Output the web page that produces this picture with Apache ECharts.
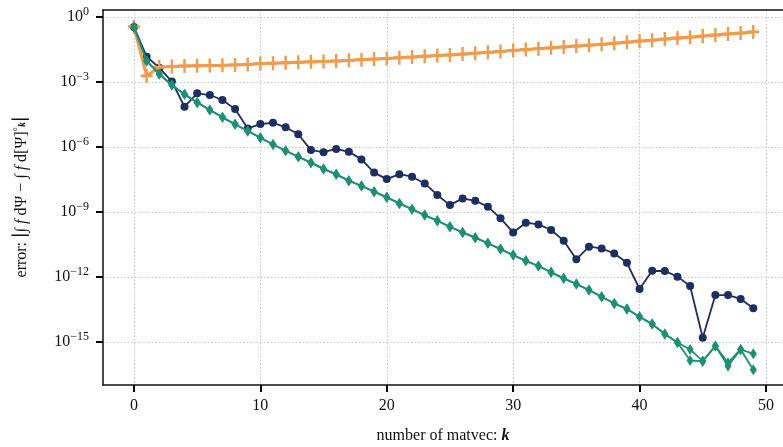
<!DOCTYPE html>
<html><head><meta charset="utf-8">
<script src="https://cdn.jsdelivr.net/npm/echarts@6/dist/echarts.min.js"></script>
<style>html,body{margin:0;padding:0;background:#fff}#c{width:783px;height:447px}</style>
</head><body><div id="c"></div>
<script>
// iteration index k
const ks = Array.from({length: 50}, (_, i) => i);
// log10 of the error
const orangeLog10 = [-0.45,-2.72,-2.31,-2.28,-2.26,-2.25,-2.24,-2.23,-2.21,-2.19,-2.15,-2.13,-2.11,-2.09,-2.07,-2.05,-2.03,-2.00,-1.97,-1.94,-1.91,-1.88,-1.85,-1.81,-1.78,-1.75,-1.71,-1.67,-1.63,-1.59,-1.54,-1.50,-1.46,-1.42,-1.38,-1.34,-1.30,-1.26,-1.21,-1.16,-1.11,-1.07,-1.02,-0.97,-0.93,-0.88,-0.83,-0.78,-0.74,-0.69];
const navyLog10 = [-0.46,-1.83,-2.34,-2.98,-4.14,-3.52,-3.60,-3.83,-4.25,-5.14,-4.94,-4.88,-5.09,-5.41,-6.14,-6.24,-6.09,-6.22,-6.57,-7.18,-7.48,-7.25,-7.37,-7.68,-8.21,-8.68,-8.37,-8.48,-8.75,-9.29,-9.94,-9.49,-9.57,-9.83,-10.32,-11.18,-10.60,-10.68,-10.91,-11.34,-12.55,-11.71,-11.72,-11.98,-12.41,-14.80,-12.83,-12.83,-13.01,-13.44];
const tealALog10 = [-0.46,-2.03,-2.63,-3.14,-3.57,-3.94,-4.29,-4.63,-4.95,-5.26,-5.57,-5.88,-6.17,-6.45,-6.72,-7.01,-7.26,-7.55,-7.80,-8.06,-8.32,-8.60,-8.87,-9.14,-9.40,-9.68,-9.94,-10.18,-10.44,-10.71,-10.98,-11.25,-11.49,-11.78,-12.06,-12.32,-12.60,-12.91,-13.22,-13.47,-13.83,-14.17,-14.63,-15.02,-15.34,-15.88,-15.18,-15.95,-15.34,-15.54];
const tealBLog10 = [-0.46,-2.03,-2.63,-3.14,-3.57,-3.94,-4.29,-4.63,-4.95,-5.26,-5.57,-5.88,-6.17,-6.45,-6.72,-7.01,-7.26,-7.55,-7.80,-8.06,-8.32,-8.60,-8.87,-9.14,-9.40,-9.68,-9.94,-10.18,-10.44,-10.71,-10.98,-11.25,-11.49,-11.78,-12.06,-12.32,-12.60,-12.91,-13.22,-13.47,-13.83,-14.17,-14.63,-15.02,-15.85,-15.88,-15.18,-16.10,-15.34,-16.28];
const xTicks = [0, 10, 20, 30, 40, 50];
const yTicks = [-15, -12, -9, -6, -3, 0];

const FONT = '"Liberation Serif", "DejaVu Serif", serif';
const pair = arr => ks.map((k, i) => [k, arr[i]]);
const plusPath = 'path://M4,0H6V4H10V6H6V10H4V6H0V4H4Z';

const chart = echarts.init(document.getElementById('c'));
chart.setOption({
  animation: false,
  grid: {left: 103, top: 10, right: 0, bottom: 62, outerBoundsMode: 'none'},
  graphic: [
    {type: 'text', x: 443, y: 436, silent: true,
     style: {text: 'number of matvec: {k|k}', font: '16px ' + FONT, fill: '#111', align: 'center', verticalAlign: 'middle',
       rich: {k: {fontFamily: FONT, fontSize: 16, fontStyle: 'italic', fontWeight: 'bold', fill: '#111'}}}},
    {type: 'text', x: 22, y: 197, rotation: Math.PI / 2, silent: true,
     style: {text: 'error: {bar|\u2223}\u222B {i|f} d\u03A8 \u2212 \u222B {i|f} d[\u03A8]{sup|\u00B0}{sub|k}{bar|\u2223}',
       font: '16px ' + FONT, fill: '#111', align: 'center', verticalAlign: 'middle',
       rich: {
         i: {fontFamily: FONT, fontSize: 16, fontStyle: 'italic', fill: '#111'},
         bar: {fontFamily: FONT, fontSize: 19, fill: '#111'},
         sup: {fontFamily: FONT, fontSize: 11, fill: '#111', padding: [0, 0, 8, 0]},
         sub: {fontFamily: FONT, fontSize: 10, fontStyle: 'italic', fontWeight: 'bold', fill: '#111'}
       }}}
  ],
  xAxis: [{
    type: 'value', min: -2.45, max: 51.35,
    axisLine: {show: true, onZero: false, lineStyle: {color: '#111', width: 1.5}},
    axisTick: {show: true, length: 7, customValues: xTicks, lineStyle: {color: '#000', width: 2}},
    axisLabel: {show: true, customValues: xTicks, margin: 13, fontFamily: FONT, fontSize: 16, color: '#111'},
    splitLine: {show: true, lineStyle: {color: '#c8c8c8', type: [1.5, 2], width: 1}}
  }, {
    type: 'value', min: -2.45, max: 51.35, position: 'top',
    axisLine: {show: true, onZero: false, lineStyle: {color: '#111', width: 1.5}},
    axisTick: {show: false}, axisLabel: {show: false}, splitLine: {show: false}
  }],
  yAxis: {
    type: 'value', min: -16.98, max: 0.323,
    axisLine: {show: true, onZero: false, lineStyle: {color: '#111', width: 1.5}},
    axisTick: {show: true, length: 7, customValues: yTicks, lineStyle: {color: '#000', width: 2}},
    axisLabel: {show: true, customValues: yTicks, margin: 14, fontFamily: FONT, color: '#111',
      formatter: v => '{b|10}{s|' + (v === 0 ? '0' : '\u2212' + (-v)) + '}',
      rich: {b: {fontFamily: FONT, fontSize: 16, color: '#111'}, s: {fontFamily: FONT, fontSize: 12, color: '#111', padding: [0, 0, 10, 0]}}
    },
    splitLine: {show: true, lineStyle: {color: '#c8c8c8', type: [1.5, 2], width: 1}}
  },
  series: [
    {type: 'line', data: pair(navyLog10), symbol: 'circle', symbolSize: 8,
     itemStyle: {color: '#1d2e63'}, lineStyle: {color: '#1d2e63', width: 1.8}, z: 2},
    {type: 'line', data: pair(orangeLog10), symbol: plusPath, symbolSize: [12, 14],
     itemStyle: {color: '#f39a4b'}, lineStyle: {color: '#f39a4b', width: 3}, z: 3},
    {type: 'line', data: pair(tealALog10), symbol: 'diamond', symbolSize: [7, 11],
     itemStyle: {color: '#1b9174'}, lineStyle: {color: '#1b9174', width: 1.8}, z: 4},
    {type: 'line', data: pair(tealBLog10), symbol: 'diamond', symbolSize: [7, 11],
     itemStyle: {color: '#1b9174'}, lineStyle: {color: '#1b9174', width: 1.8}, z: 4}
  ]
});
</script></body></html>
